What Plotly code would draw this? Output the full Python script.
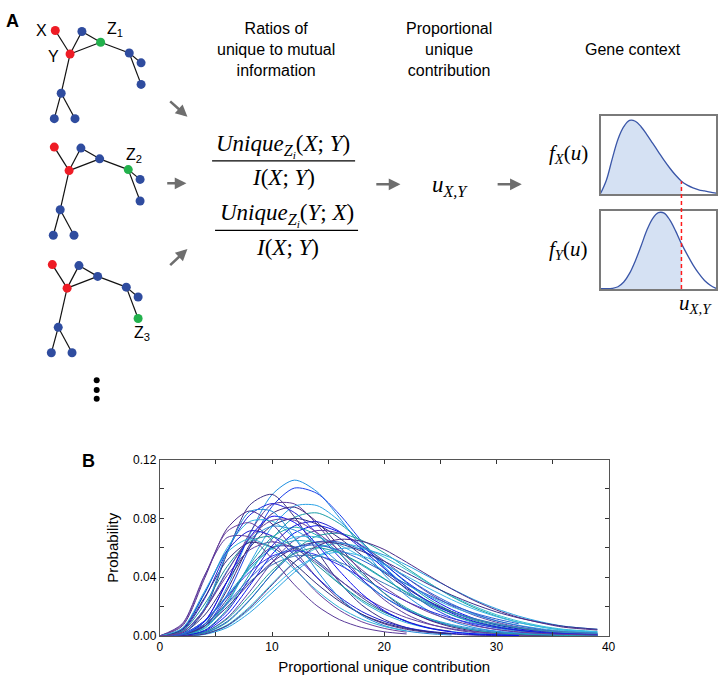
import plotly.graph_objects as go

W, H = 728, 685

# ---------------- Panel B data ----------------
X_GRID = [0, 2, 4, 6, 8, 10, 12, 14, 16, 18, 20, 22, 24, 26, 28, 30, 32, 34, 36, 39]

s01 = [0, 0.0003, 0.0080, 0.0333, 0.0687, 0.0961, 0.1060, 0.0982, 0.0805, 0.0601, 0.0418, 0.0272, 0.0169, 0.0100, 0.0057, 0.0032, 0.0018, 0.0009, 0.0005, 0.0002]
s02 = [0, 0.0003, 0.0065, 0.0280, 0.0600, 0.0880, 0.1006, 0.0970, 0.0828, 0.0643, 0.0464, 0.0315, 0.0203, 0.0125, 0.0075, 0.0043, 0.0025, 0.0014, 0.0007, 0.0004]
s03 = [0, 0.0010, 0.0175, 0.0561, 0.0889, 0.0963, 0.0810, 0.0579, 0.0366, 0.0210, 0.0112, 0.0056, 0.0026, 0.0013, 0.0005, 0.0002, 0.0001, 0, 0, 0]
s04 = [0, 0.0005, 0.0098, 0.0370, 0.0698, 0.0895, 0.0898, 0.0760, 0.0569, 0.0388, 0.0246, 0.0146, 0.0082, 0.0045, 0.0023, 0.0012, 0.0006, 0.0003, 0.0001, 0.0001]
s05 = [0, 0.0002, 0.0050, 0.0220, 0.0491, 0.0742, 0.0883, 0.0887, 0.0783, 0.0631, 0.0472, 0.0333, 0.0223, 0.0143, 0.0089, 0.0053, 0.0032, 0.0017, 0.0010, 0.0005]
s06 = [0, 0.0035, 0.0254, 0.0578, 0.0821, 0.0900, 0.0839, 0.0698, 0.0536, 0.0385, 0.0264, 0.0174, 0.0111, 0.0068, 0.0041, 0.0024, 0.0014]
s07 = [0, 0.0067, 0.0393, 0.0731, 0.0850, 0.0762, 0.0582, 0.0398, 0.0249, 0.0147, 0.0082, 0.0044, 0.0023, 0.0012]
s08 = [0, 0.0002, 0.0039, 0.0181, 0.0419, 0.0659, 0.0806, 0.0837, 0.0765, 0.0638, 0.0494, 0.0360, 0.0249, 0.0167, 0.0107, 0.0067, 0.0041, 0.0024, 0.0014, 0.0008]
s09 = [0, 0.0004, 0.0078, 0.0313, 0.0619, 0.0832, 0.0876, 0.0776, 0.0610, 0.0436, 0.0290, 0.0180, 0.0107, 0.0061, 0.0033, 0.0018, 0.0010, 0.0005, 0.0002, 0.0001]
s10 = [0, 0.0044, 0.0288, 0.0599, 0.0778, 0.0781, 0.0666, 0.0508, 0.0356, 0.0234, 0.0148, 0.0089, 0.0052, 0.0029, 0.0016, 0.0009, 0.0005]
s11 = [0, 0.0076, 0.0407, 0.0711, 0.0770, 0.0649, 0.0464, 0.0296, 0.0175, 0.0096, 0.0051, 0.0025]
s12 = [0, 0.0001, 0.0031, 0.0144, 0.0341, 0.0555, 0.0700, 0.0750, 0.0706, 0.0610, 0.0488, 0.0367, 0.0263, 0.0180, 0.0119, 0.0075, 0.0047, 0.0029, 0.0017, 0.0011]
s13 = [0, 0.0001, 0.0018, 0.0092, 0.0241, 0.0424, 0.0583, 0.0679, 0.0698, 0.0650, 0.0565, 0.0462, 0.0360, 0.0268, 0.0193, 0.0135, 0.0091, 0.0061, 0.0039, 0.0025]
s14 = [0, 0, 0.0014, 0.0074, 0.0198, 0.0355, 0.0503, 0.0597, 0.0630, 0.0602, 0.0536, 0.0449, 0.0357, 0.0273, 0.0202, 0.0144, 0.0100, 0.0067, 0.0045, 0.0030]
s15 = [0, 0.0018, 0.0142, 0.0370, 0.0599, 0.0750, 0.0800, 0.0760, 0.0666, 0.0548, 0.0430, 0.0323, 0.0234, 0.0166, 0.0114, 0.0078, 0.0052, 0.0034, 0.0022, 0.0014]
s16 = [0, 0.0026, 0.0184, 0.0443, 0.0655, 0.0746, 0.0720, 0.0624, 0.0497, 0.0373, 0.0265, 0.0181, 0.0119, 0.0077, 0.0049, 0.0030, 0.0018, 0.0011, 0.0006, 0.0004]
s17 = [0, 0.0048, 0.0294, 0.0580, 0.0714, 0.0680, 0.0551, 0.0398, 0.0266, 0.0166, 0.0099, 0.0056, 0.0031, 0.0017, 0.0009, 0.0005, 0.0002]
s18 = [0, 0.0001, 0.0025, 0.0122, 0.0300, 0.0499, 0.0651, 0.0717, 0.0698, 0.0615, 0.0510, 0.0395, 0.0290, 0.0206, 0.0141, 0.0093, 0.0060, 0.0037, 0.0023, 0.0014]
s19 = [0, 0.0032, 0.0217, 0.0472, 0.0642, 0.0677, 0.0603, 0.0482, 0.0355, 0.0245, 0.0160, 0.0101]
s20 = [0, 0.0012, 0.0098, 0.0266, 0.0454, 0.0598, 0.0671, 0.0673, 0.0619, 0.0537, 0.0442, 0.0350, 0.0269, 0.0199, 0.0146, 0.0103, 0.0072, 0.0049, 0.0034, 0.0022]
s21 = [0, 0.0001, 0.0020, 0.0098, 0.0245, 0.0421, 0.0566, 0.0640, 0.0638, 0.0585, 0.0493, 0.0394, 0.0298, 0.0218, 0.0152, 0.0103, 0.0069, 0.0044, 0.0028, 0.0018]
s22 = [0, 0.0003, 0.0066, 0.0249, 0.0471, 0.0603, 0.0605, 0.0512, 0.0384, 0.0262, 0.0166, 0.0099, 0.0055, 0.0030]
s23 = [0, 0.0013, 0.0104, 0.0276, 0.0460, 0.0593, 0.0648, 0.0632, 0.0569, 0.0481, 0.0387, 0.0299, 0.0223, 0.0162, 0.0115, 0.0080, 0.0055, 0.0037, 0.0025, 0.0016]
s24 = [0, 0, 0.0010, 0.0056, 0.0157, 0.0293, 0.0433, 0.0542, 0.0593, 0.0594, 0.0550, 0.0482, 0.0401, 0.0322, 0.0247, 0.0185, 0.0134, 0.0095, 0.0066, 0.0045]
s25 = [0, 0.0025, 0.0180, 0.0411, 0.0584, 0.0640, 0.0596, 0.0497, 0.0381, 0.0274, 0.0188, 0.0124, 0.0079, 0.0049, 0.0029, 0.0017, 0.0010]
s26 = [0, 0.0001, 0.0025, 0.0115, 0.0272, 0.0444, 0.0560, 0.0600, 0.0565, 0.0488, 0.0390, 0.0293, 0.0210, 0.0144, 0.0095, 0.0060, 0.0038, 0.0023, 0.0014, 0.0008]
s27 = [0, 0.0013, 0.0103, 0.0268, 0.0434, 0.0543, 0.0580, 0.0551, 0.0483, 0.0397, 0.0311, 0.0234, 0.0170, 0.0120, 0.0083, 0.0056, 0.0038, 0.0025, 0.0016, 0.0010]
s28 = [0, 0, 0.0013, 0.0067, 0.0179, 0.0321, 0.0455, 0.0540, 0.0570, 0.0544, 0.0485, 0.0406, 0.0323, 0.0247, 0.0182, 0.0131, 0.0091, 0.0061, 0.0041, 0.0027]
s29 = [0, 0.0042, 0.0262, 0.0515, 0.0635, 0.0604, 0.0490, 0.0354, 0.0236, 0.0147, 0.0088, 0.0050, 0.0028, 0.0015]
s30 = [0, 0.0009, 0.0079, 0.0215, 0.0367, 0.0483, 0.0543, 0.0545, 0.0501, 0.0434, 0.0358, 0.0283, 0.0217, 0.0161, 0.0118, 0.0084, 0.0058, 0.0040, 0.0028, 0.0018]
s31 = [0, 0.0083, 0.0414, 0.0669, 0.0672, 0.0525, 0.0348, 0.0205, 0.0111, 0.0057, 0.0028, 0.0013]
s32 = [0, 0.0005, 0.0099, 0.0372, 0.0669, 0.0813, 0.0772, 0.0622, 0.0443, 0.0287, 0.0172, 0.0097, 0.0052, 0.0027, 0.0014, 0.0007, 0.0003]
s33 = [0, 0.0011, 0.0190, 0.0570, 0.0845, 0.0848, 0.0668, 0.0445, 0.0261, 0.0140, 0.0070, 0.0033, 0.0015, 0.0006]
s34 = [0, 0.0007, 0.0068, 0.0196, 0.0356, 0.0501, 0.0598, 0.0638, 0.0627, 0.0576, 0.0508, 0.0429, 0.0349, 0.0278, 0.0216, 0.0163, 0.0122, 0.0090, 0.0065, 0.0045]
s35 = [0, 0.0002, 0.0056, 0.0232, 0.0480, 0.0671, 0.0740, 0.0685, 0.0562, 0.0420, 0.0292, 0.0190, 0.0118, 0.0070, 0.0040, 0.0022, 0.0013, 0.0007, 0.0003, 0.0002]
s36 = [0, 0.0001, 0.0036, 0.0168, 0.0389, 0.0612, 0.0749, 0.0777, 0.0711, 0.0592, 0.0459, 0.0334, 0.0232, 0.0155, 0.0099, 0.0062, 0.0038, 0.0022, 0.0013, 0.0007]
s37 = [0, 0.0052, 0.0305, 0.0568, 0.0660, 0.0592, 0.0452, 0.0309, 0.0193, 0.0114, 0.0064, 0.0034]
s38 = [0, 0, 0.0013, 0.0070, 0.0189, 0.0347, 0.0501, 0.0611, 0.0657, 0.0644, 0.0588, 0.0501, 0.0409, 0.0320, 0.0241, 0.0176, 0.0125, 0.0088, 0.0059, 0.0040]
s39 = [0, 0.0009, 0.0080, 0.0223, 0.0390, 0.0527, 0.0603, 0.0618, 0.0583, 0.0516, 0.0435, 0.0352, 0.0276, 0.0211, 0.0156, 0.0115, 0.0082]
s40 = [0, 0.0024, 0.0179, 0.0436, 0.0666, 0.0786, 0.0787, 0.0704, 0.0581, 0.0450, 0.0332, 0.0234, 0.0160, 0.0107, 0.0069, 0.0044, 0.0027, 0.0017, 0.0010, 0.0006]

SERIES = [s01, s02, s03, s04, s05, s06, s07, s08, s09, s10, s11, s12, s13, s14, s15, s16, s17, s18, s19, s20,
          s21, s22, s23, s24, s25, s26, s27, s28, s29, s30, s31, s32, s33, s34, s35, s36, s37, s38, s39, s40]

SERIES_COLORS = ["#1f8fe0", "#1a3fe8", "#3b2f85", "#5b3a9c", "#2aa2e6", "#1f1fd6", "#4d2d8c", "#1a9ea8",
                 "#40297a", "#2fb2dc", "#6b3f9e", "#0a14f0", "#1d9f9f", "#34c0d4", "#2b2a7c", "#2a8fd8",
                 "#1b1bd2", "#5a40a8", "#188f92", "#3fb5e2", "#2c60d2", "#3a3aa0", "#28aec8", "#28a0e0",
                 "#6141a2", "#1a9a9a", "#3232e2", "#38b8e8", "#2d2a7a", "#3a7ab8", "#5a3a9a", "#0c0cf2",
                 "#1e88d8", "#3a2f8a", "#20a8b0", "#1a1ad4", "#30b0d8", "#4b2c8a", "#2c5fd0", "#6a3d9a"]

X_TICKS = [0, 5, 10, 15, 20, 25, 30, 35, 40]
X_TICK_TEXT = ["0", "", "10", "", "20", "", "30", "", "40"]
Y_TICKS = [0, 0.02, 0.04, 0.06, 0.08, 0.10, 0.12]
Y_TICK_TEXT = ["0.00", "", "0.04", "", "0.08", "", "0.12"]

# ---------------- Panel A data ----------------
NODE_X = [53, 80, 99, 68, 128, 140, 140, 59, 52, 73]
NODE_Y = [24, 25, 36, 48, 47, 57, 79, 88, 114, 114]
RED_NODES = [0, 3]
EDGES = [(0, 3), (3, 1), (1, 2), (3, 2), (2, 4), (4, 5), (4, 6), (3, 7), (7, 8), (7, 9)]
GRAPH_OFFSETS = [(0, 0), (-1, 119), (-3, 239)]
GREEN_NODE = [2, 4, 6]
Z_LABELS = ["Z<sub>1</sub>", "Z<sub>2</sub>", "Z<sub>3</sub>"]
Z_LABEL_POS = [(114, 23), (133, 152), (141, 333)]

U = [0, 0.05, 0.1, 0.15, 0.2, 0.25, 0.3, 0.35, 0.4, 0.45, 0.5, 0.55, 0.6, 0.65, 0.7, 0.75, 0.8, 0.85, 0.9, 0.95, 1.0]
FX = [0.01, 0.18, 0.45, 0.70, 0.86, 0.94, 0.93, 0.86, 0.76, 0.65, 0.54, 0.43, 0.33, 0.24, 0.165, 0.115, 0.08, 0.055, 0.04, 0.025, 0.012]
FY = [0.005, 0.005, 0.01, 0.03, 0.09, 0.20, 0.36, 0.55, 0.75, 0.90, 0.975, 0.97, 0.88, 0.74, 0.58, 0.44, 0.31, 0.20, 0.11, 0.05, 0.01]
UXY_INDEX = 14  # u = 0.7

FONT = "Liberation Sans, Arial, Helvetica, sans-serif"
SERIF = "Liberation Serif, Times New Roman, serif"


def dom_x(a, b):
    return [a / W, b / W]


def dom_y(top, bottom):
    return [1 - bottom / H, 1 - top / H]


fig = go.Figure()

for ys, col in zip(SERIES, SERIES_COLORS):
    fig.add_trace(go.Scatter(
        x=X_GRID[:len(ys)], y=ys, mode="lines",
        line=dict(color=col, width=1, shape="spline", smoothing=0.8),
        xaxis="x", yaxis="y", hoverinfo="skip", showlegend=False))

for gi, (dx, dy) in enumerate(GRAPH_OFFSETS):
    ex, ey = [], []
    for a, b in EDGES:
        ex += [NODE_X[a] + dx, NODE_X[b] + dx, None]
        ey += [NODE_Y[a] + dy, NODE_Y[b] + dy, None]
    fig.add_trace(go.Scatter(x=ex, y=ey, mode="lines", line=dict(color="#111111", width=1.2),
                             xaxis="x2", yaxis="y2", hoverinfo="skip", showlegend=False))
    cols = []
    for i in range(len(NODE_X)):
        if i in RED_NODES:
            cols.append("#ee1c25")
        elif i == GREEN_NODE[gi]:
            cols.append("#22b14c")
        else:
            cols.append("#2f4c9f")
    fig.add_trace(go.Scatter(x=[v + dx for v in NODE_X], y=[v + dy for v in NODE_Y], mode="markers",
                             marker=dict(color=cols, size=9, line=dict(width=0)),
                             xaxis="x2", yaxis="y2", hoverinfo="skip", showlegend=False))

fig.add_trace(go.Scatter(x=[95, 95, 95], y=[381, 391, 400], mode="markers",
                         marker=dict(color="black", size=6), xaxis="x2", yaxis="y2",
                         hoverinfo="skip", showlegend=False))

fig.add_trace(go.Scatter(x=U[:UXY_INDEX + 1], y=FX[:UXY_INDEX + 1], mode="lines", fill="tozeroy",
                         fillcolor="#d5e1f3", line=dict(width=0), xaxis="x3", yaxis="y3",
                         hoverinfo="skip", showlegend=False))
fig.add_trace(go.Scatter(x=U, y=FX, mode="lines", line=dict(color="#3a56a8", width=1.3, shape="spline"),
                         xaxis="x3", yaxis="y3", hoverinfo="skip", showlegend=False))
fig.add_trace(go.Scatter(x=U[:UXY_INDEX + 1], y=FY[:UXY_INDEX + 1], mode="lines", fill="tozeroy",
                         fillcolor="#d5e1f3", line=dict(width=0), xaxis="x4", yaxis="y4",
                         hoverinfo="skip", showlegend=False))
fig.add_trace(go.Scatter(x=U, y=FY, mode="lines", line=dict(color="#3a56a8", width=1.3, shape="spline"),
                         xaxis="x4", yaxis="y4", hoverinfo="skip", showlegend=False))

box1_y = dom_y(111, 191)
box2_y = dom_y(208, 288)
red_top = box1_y[0] + FX[UXY_INDEX] * (box1_y[1] - box1_y[0])

shapes = [
    dict(type="line", xref="x3", yref="paper", x0=U[UXY_INDEX], x1=U[UXY_INDEX],
         y0=box2_y[0], y1=red_top, line=dict(color="#ff1a1a", width=1.5, dash="4px,3px")),
    dict(type="line", xref="x2", yref="y2", x0=212, x1=357, y0=157, y1=157, line=dict(color="black", width=1.2)),
    dict(type="line", xref="x2", yref="y2", x0=215, x1=360, y0=228, y1=228, line=dict(color="black", width=1.2)),
]

ann = []


def txt(x, y, s, size=15, family=FONT, **kw):
    d = dict(x=x, y=y, xref="x2", yref="y2", text=s, showarrow=False,
             font=dict(size=size, family=family, color="black"))
    d.update(kw)
    ann.append(d)


def arrow(x0, y0, x1, y1):
    ann.append(dict(x=x1, y=y1, ax=x0, ay=y0, xref="x2", yref="y2", axref="x2", ayref="y2",
                    text="", showarrow=True, arrowhead=2, arrowsize=0.9, arrowwidth=2.6,
                    arrowcolor="#6e6e6e"))


txt(10, 14, "<b>A</b>", size=18)
txt(87, 463, "<b>B</b>", size=18)
txt(39, 24, "X", size=16)
txt(51, 51, "Y", size=16)
for lab, (lx, ly) in zip(Z_LABELS, Z_LABEL_POS):
    txt(lx, ly, lab, size=16)

txt(277, 43, "Ratios of<br>unique to mutual<br>information", size=16)
txt(452, 43, "Proportional<br>unique<br>contribution", size=16)
txt(639, 43, "Gene context", size=16)

num1 = "<i>Unique</i><sub><i>Z<sub>i</sub></i></sub>(<i>X</i>; <i>Y</i>)"
num2 = "<i>Unique</i><sub><i>Z<sub>i</sub></i></sub>(<i>Y</i>; <i>X</i>)"
den = "<i>I</i>(<i>X</i>; <i>Y</i>)"
txt(284, 142, num1, size=23, family=SERIF)
txt(284, 174, den, size=23, family=SERIF)
txt(288, 212, num2, size=23, family=SERIF)
txt(288, 246, den, size=23, family=SERIF)
txt(453, 183, "<i>u</i><sub><i>X,Y</i></sub>", size=23, family=SERIF)
txt(573, 150, "<i>f</i><sub><i>X</i></sub>(<i>u</i>)", size=21, family=SERIF)
txt(573, 248, "<i>f</i><sub><i>Y</i></sub>(<i>u</i>)", size=21, family=SERIF)
txt(702, 303, "<i>u</i><sub><i>X,Y</i></sub>", size=21, family=SERIF)

arrow(168, 95, 187, 112)
arrow(165, 180, 186, 180)
arrow(168, 265, 187, 247)
arrow(377, 181, 403, 181)
arrow(500, 181, 526, 181)

box_axis = dict(range=[0, 1], showline=True, mirror=True, linecolor="#7a7a7a", linewidth=2,
                showticklabels=False, ticks="", showgrid=False, zeroline=False, fixedrange=True)

fig.update_layout(
    width=W, height=H, margin=dict(l=0, r=0, t=0, b=0),
    paper_bgcolor="white", plot_bgcolor="rgba(0,0,0,0)",
    showlegend=False,
    font=dict(family=FONT, color="black"),
    xaxis=dict(domain=dom_x(159, 614), range=[0, 40], tickvals=X_TICKS, ticktext=X_TICK_TEXT,
               ticks="inside", ticklen=4, tickcolor="#333333", showline=True, linecolor="#555555",
               linewidth=1, mirror="ticks", showgrid=False, zeroline=False,
               tickfont=dict(size=12, family=FONT, color="black"),
               title=dict(text="Proportional unique contribution", font=dict(size=15, family=FONT),
                          standoff=8)),
    yaxis=dict(domain=dom_y(462, 642), range=[0, 0.12], tickvals=Y_TICKS, ticktext=Y_TICK_TEXT,
               ticks="inside", ticklen=4, tickcolor="#333333", showline=True, linecolor="#555555",
               linewidth=1, mirror="ticks", showgrid=False, zeroline=False,
               tickfont=dict(size=12, family=FONT, color="black"),
               title=dict(text="Probability", font=dict(size=15, family=FONT), standoff=10)),
    xaxis2=dict(domain=[0, 1], range=[0, W], visible=False, fixedrange=True),
    yaxis2=dict(domain=[0, 1], range=[H, 0], visible=False, fixedrange=True),
    xaxis3=dict(domain=dom_x(606, 723), anchor="y3", **box_axis),
    yaxis3=dict(domain=box1_y, anchor="x3", **box_axis),
    xaxis4=dict(domain=dom_x(606, 723), anchor="y4", **box_axis),
    yaxis4=dict(domain=box2_y, anchor="x4", **box_axis),
    shapes=shapes,
    annotations=ann,
)

fig.write_html("out.html", config={"displayModeBar": False, "staticPlot": True},
               post_script="document.body.style.margin='0px';document.body.style.overflow='hidden';")
